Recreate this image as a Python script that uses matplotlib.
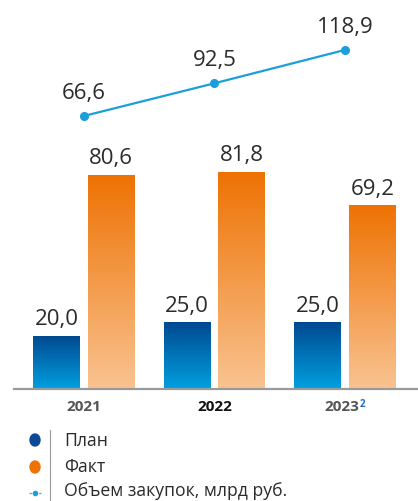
import numpy as np
import matplotlib
matplotlib.use("Agg")
from matplotlib import pyplot as plt
from matplotlib.colors import LinearSegmentedColormap
from matplotlib.patches import Circle
from matplotlib.lines import Line2D

years = ["2021", "2022", "2023"]
plan = [20.0, 25.0, 25.0]
fact = [80.6, 81.8, 69.2]
volume = [66.6, 92.5, 118.9]
legend_labels = ["План", "Факт", "Объем закупок, млрд руб."]

plt.rcParams['font.family'] = ['Open Sans', 'DejaVu Sans']

W, H = 418, 501
fig = plt.figure(figsize=(W / 100, H / 100), dpi=100)

# axes: left edge 14px, baseline at y=389px, top at 0
ax = fig.add_axes([14 / W, (H - 389) / H, 1 - 14 / W, 389 / H])

blue_cmap = LinearSegmentedColormap.from_list("b", ["#00a0e0", "#004990"])
orange_cmap = LinearSegmentedColormap.from_list("o", ["#f9c391", "#ee7203"])
grad = np.linspace(0, 1, 256).reshape(-1, 1)

x = np.arange(len(years))
w = 0.36
off = 0.21
txt = "#2b2b2b"

for i in range(len(years)):
    for val, dx, cmap in [(plan[i], -off, blue_cmap), (fact[i], off, orange_cmap)]:
        ax.imshow(grad, cmap=cmap, origin="lower", aspect="auto",
                  extent=[x[i] + dx - w / 2, x[i] + dx + w / 2, 0, val], zorder=2)
        ax.annotate(f"{val:.1f}".replace(".", ","), xy=(x[i] + dx, val),
                    xytext=(0, 8), textcoords="offset points", ha="center",
                    va="baseline", fontsize=16, color=txt)

ax.set_xlim(-0.536, 2.56)
ax.set_ylim(0, 146.8)
for s in ["top", "right", "left"]:
    ax.spines[s].set_visible(False)
ax.spines["bottom"].set_color("#9a9a9a")
ax.spines["bottom"].set_linewidth(1.6)
ax.set_yticks([])
ax.set_xticks([])

# year labels
xt = ax.get_xaxis_transform()
ax.text(0, -0.046, "2021", transform=xt, ha="center", va="center",
        fontsize=11, fontweight="bold", color="#555555")
ax.text(1, -0.046, "2022", transform=xt, ha="center", va="center",
        fontsize=11, fontweight="bold", color="#111111")
ax.text(1.977, -0.046, "2023", transform=xt, ha="center", va="center",
        fontsize=11, fontweight="bold", color="#555555")
ax.text(2.137, -0.039, "2", transform=xt, ha="center", va="center",
        fontsize=7, fontweight="bold", color="#1f6fc0")

# line on its own scale
ax2 = ax.twinx()
ax2.set_ylim(-149.8, 158.5)
ax2.set_xlim(-0.536, 2.56)
ax2.plot(x, volume, color="#1a9fdb", lw=1.6, marker="o", ms=5.5, zorder=3)
for i in range(len(years)):
    ax2.annotate(f"{volume[i]:.1f}".replace(".", ","), xy=(x[i], volume[i]),
                 xytext=(0, 12.5), textcoords="offset points", ha="center",
                 va="baseline", fontsize=16, color=txt)
ax2.axis("off")

# legend
fig.add_artist(Line2D([50 / W, 50 / W], [0, 1 - 430 / H], color="#9a9a9a", lw=0.8))
ys = [440, 467, 493]
base = [446, 472.5, 496]
fig.add_artist(Circle((35 / W, 1 - ys[0] / H), 5 / W, color="#0a4a96",
                      transform=fig.transFigure))
fig.add_artist(Circle((35 / W, 1 - ys[1] / H), 5 / W, color="#ee7203",
                      transform=fig.transFigure))
fig.add_artist(Line2D([29 / W, 41 / W], [1 - ys[2] / H] * 2, color="#4fb3e3",
                      lw=1, ls=(0, (2, 1.5))))
fig.add_artist(Line2D([35 / W], [1 - ys[2] / H], color="#1a9fdb", marker="o", ms=3))
for yy, lab in zip(base, legend_labels):
    fig.text(64 / W, 1 - yy / H, lab, ha="left", va="baseline", fontsize=12.7, color=txt)

fig.savefig("out.png", dpi=100)
